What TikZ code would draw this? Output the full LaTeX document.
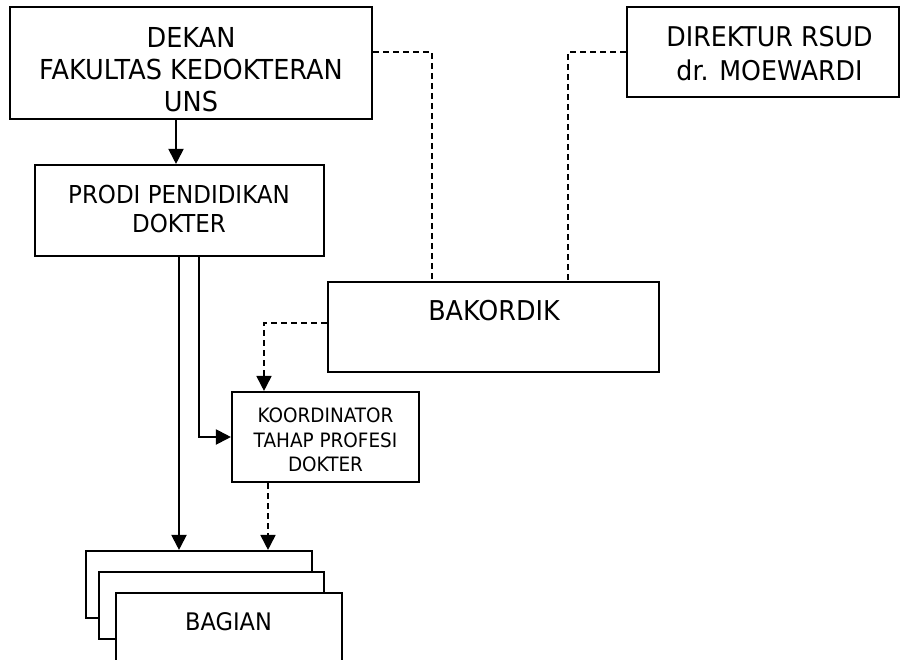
\documentclass[tikz,border=0pt]{standalone}
\usepackage{fontspec}
\setmainfont[FakeStretch=0.93]{DejaVu Sans}
\usetikzlibrary{arrows.meta}
\tikzset{
  box/.style={draw=black, line width=2.1pt, fill=white, inner sep=0pt},
  lbl/.style={anchor=north, inner sep=0pt, align=center},
  arr/.style={line width=2pt, -{Triangle[width=15pt,length=15pt]}},
  dashline/.style={line width=1.7pt, dash pattern=on 6pt off 4pt},
}
\begin{document}
\begin{tikzpicture}[x=1pt,y=-1pt]
\useasboundingbox (0,0) rectangle (901,660);
% boxes
\node[box, minimum width=362pt, minimum height=112pt] (dekan) at (191,63) {};
\node[box, minimum width=289pt, minimum height=91pt] (prodi) at (179.5,210.5) {};
\node[box, minimum width=272pt, minimum height=90pt] (dir) at (763,52) {};
\node[box, minimum width=331pt, minimum height=90pt] (bak) at (493.5,327) {};
\node[box, minimum width=187pt, minimum height=90pt] (koord) at (325.5,437) {};
\node[box, minimum width=226pt, minimum height=67pt] (bag1) at (199,584.5) {};
\node[box, minimum width=225pt, minimum height=67pt] (bag2) at (211.5,605.5) {};
\node[box, minimum width=226pt, minimum height=80pt] (bag3) at (229,633) {};
% texts
\node[lbl, font=\fontsize{27.5}{32}\selectfont] (tdekan) at (191,27) {DEKAN\\FAKULTAS KEDOKTERAN\\UNS};
\node[lbl, font=\fontsize{24.7}{29}\selectfont] (tprodi) at (179,185) {PRODI PENDIDIKAN\\DOKTER};
\node[lbl, font=\fontsize{27.2}{34}\selectfont] (tdir) at (769.5,26) {DIREKTUR RSUD\\dr. MOEWARDI};
\node[lbl, font=\fontsize{27.3}{32}\selectfont] (tbak) at (494,300) {BAKORDIK};
\node[lbl, font=\fontsize{19.8}{24.5}\selectfont] (tkoord) at (325.5,408) {KOORDINATOR\\TAHAP PROFESI\\DOKTER};
\node[lbl, font=\fontsize{24.2}{28}\selectfont] (tbag) at (228.5,612) {BAGIAN};
% helper coordinates
\coordinate (xa) at (176,0);
\coordinate (xb) at (179,0);
\coordinate (xc) at (199,0);
\coordinate (xd) at (264,0);
\coordinate (xe) at (268,0);
\coordinate (xf) at (432,0);
\coordinate (xg) at (568,0);
\coordinate (ya) at (0,52);
\coordinate (yb) at (0,323);
% connectors
\draw[arr] (dekan.south -| xa) -- (prodi.north -| xa);
\draw[dashline] (dekan.east |- ya) -| (bak.north -| xf);
\draw[dashline] (dir.west |- ya) -| (bak.north -| xg);
\draw[dashline, arr, line width=1.7pt] (bak.west |- yb) -| (koord.north -| xd);
\draw[arr] (prodi.south -| xb) -- (bag1.north -| xb);
\draw[arr] (prodi.south -| xc) |- (koord.west);
\draw[dashline, arr, line width=1.7pt] (koord.south -| xe) -- (bag1.north -| xe);
\end{tikzpicture}
\end{document}
